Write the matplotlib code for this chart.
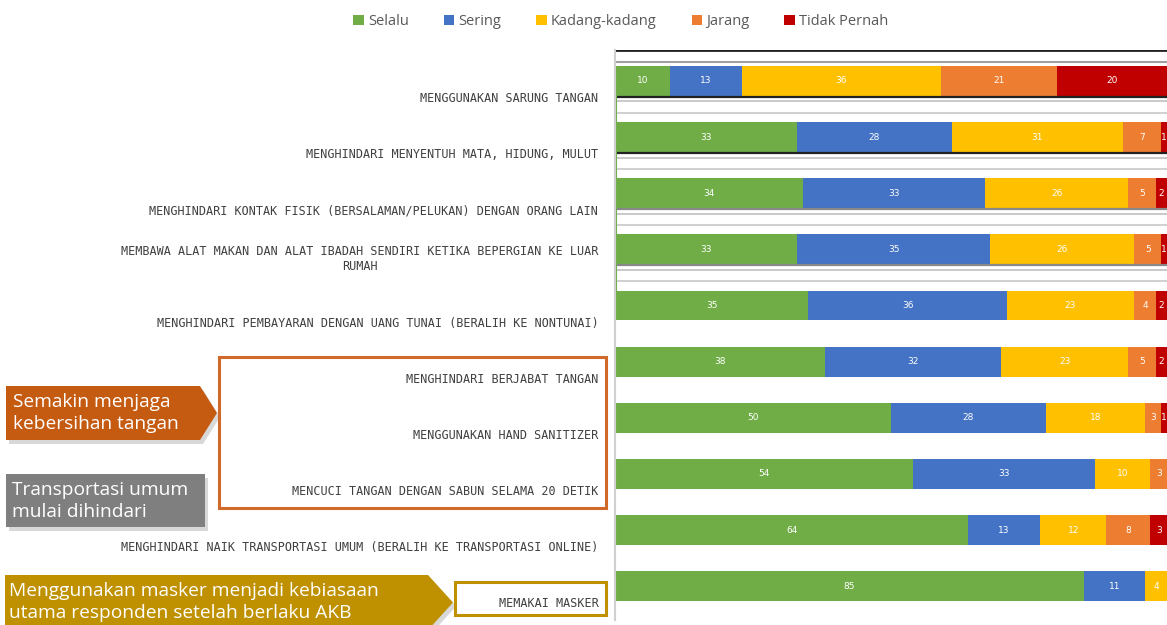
import matplotlib
matplotlib.use('Agg')
import matplotlib.pyplot as plt
from matplotlib.patches import Polygon, Rectangle
from matplotlib.transforms import ScaledTranslation
import numpy as np

# kebiasaan responden setelah AKB (persen)
kategori = [
    'MENGGUNAKAN SARUNG TANGAN',
    'MENGHINDARI MENYENTUH MATA, HIDUNG, MULUT',
    'MENGHINDARI KONTAK FISIK (BERSALAMAN/PELUKAN) DENGAN ORANG LAIN',
    'MEMBAWA ALAT MAKAN DAN ALAT IBADAH SENDIRI KETIKA BEPERGIAN KE LUAR\nRUMAH',
    'MENGHINDARI PEMBAYARAN DENGAN UANG TUNAI (BERALIH KE NONTUNAI)',
    'MENGHINDARI BERJABAT TANGAN',
    'MENGGUNAKAN HAND SANITIZER',
    'MENCUCI TANGAN DENGAN SABUN SELAMA 20 DETIK',
    'MENGHINDARI NAIK TRANSPORTASI UMUM (BERALIH KE TRANSPORTASI ONLINE)',
    'MEMAKAI MASKER',
]
selalu = [10, 33, 34, 33, 35, 38, 50, 54, 64, 85]
sering = [13, 28, 33, 35, 36, 32, 28, 33, 13, 11]
kadang = [36, 31, 26, 26, 23, 23, 18, 10, 12, 4]
jarang = [21, 7, 5, 5, 4, 5, 3, 3, 8, 0]
tidak_pernah = [20, 1, 2, 1, 2, 2, 1, 0, 3, 0]

seri = ['Selalu', 'Sering', 'Kadang-kadang', 'Jarang', 'Tidak Pernah']
nilai = [selalu, sering, kadang, jarang, tidak_pernah]
warna = ['#70AD47', '#4472C4', '#FFC000', '#ED7D31', '#C00000']

W, H = 1167, 625
fig = plt.figure(figsize=(W / 100, H / 100), dpi=100)
ax = fig.add_axes([615 / W, 5 / H, 1 - 615 / W, 570 / H])

y = np.arange(len(kategori))
tinggi = 0.53
kiri = np.zeros(len(kategori))
handles = []
for nama, v, c in zip(seri, nilai, warna):
    v = np.array(v, dtype=float)
    b = ax.barh(y, v, left=kiri, height=tinggi, color=c, label=nama)
    handles.append(b)
    for yi, l, w in zip(y, kiri, v):
        if w > 0:
            ax.text(l + w / 2, yi, f'{int(w)}', ha='center', va='center',
                    fontsize=6.5, color='white', clip_on=True)
    kiri += v

ax.set_xlim(0, 100)
ax.set_ylim(9.6, -0.55)
ax.set_yticks(y)
ax.set_yticklabels(kategori, fontsize=8.5, color='#404040',
                   family='DejaVu Sans Mono', multialignment='center')
ax.tick_params(axis='y', length=0, pad=12)
# label kategori sedikit turun dari tengah batang
geser = ScaledTranslation(0, -0.24, fig.dpi_scale_trans)
for lbl in ax.get_yticklabels():
    lbl.set_va('bottom')
    lbl.set_transform(lbl.get_transform() + geser)
ax.set_xticks([])
for s in ['top', 'right', 'bottom']:
    ax.spines[s].set_visible(False)
ax.spines['left'].set_color('#D0D0D0')
ax.spines['left'].set_linewidth(1.5)

# garis bingkai sisa di baris atas
ax.axhline(-0.55, color='#222222', lw=2)
ax.axhline(-0.33, color='#A0A0A0', lw=1.5)
for i in range(4):
    yb = i + tinggi / 2
    ax.axhline(yb + 0.02, color='#222222' if i < 2 else '#888888', lw=1.6)
    ax.axhline(yb + 0.1, color='#C0C0C0', lw=1.2)
    ax.axhline(yb + 0.3, color='#C8C8C8', lw=1.2)
    ax.plot([0.15, 0.15], [yb, yb + 0.45], color='#70AD47', lw=1.5,
            clip_on=False)

fig.legend(handles=handles, loc='upper center', bbox_to_anchor=(0.532, 0.998),
           ncol=5, frameon=False, handlelength=0.7,
           handleheight=0.7, handletextpad=0.3, columnspacing=2.4,
           labelcolor='#595959', prop={'family': 'Open Sans', 'size': 10.5})


def px(x, yy):
    return (x / W, 1 - yy / H)


def kotak_panah(x0, y0, x1, y1, ujung, warna_isi):
    tengah = (y0 + y1) / 2
    pts = [px(x0, y0), px(x1, y0), px(ujung, tengah), px(x1, y1), px(x0, y1)]
    bayang = [(a + 3 / W, b - 4 / H) for a, b in pts]
    fig.add_artist(Polygon(bayang, closed=True, transform=fig.transFigure,
                           facecolor='#BFBFBF', edgecolor='none', alpha=0.6))
    fig.add_artist(Polygon(pts, closed=True, transform=fig.transFigure,
                           facecolor=warna_isi, edgecolor='none'))


gaya = dict(color='white', fontsize=13.8, family='Open Sans', va='center',
            ha='left', linespacing=1.25)

# keterangan kebersihan tangan
kotak_panah(6, 386, 200, 440, 217, '#C55A11')
fig.text(*px(13, 413), 'Semakin menjaga\nkebersihan tangan', **gaya)
fig.add_artist(Rectangle(px(219, 508), (606 - 219) / W, (508 - 357) / H,
                         transform=fig.transFigure, fill=False,
                         edgecolor='#D0692A', lw=2.2))

# keterangan transportasi
fig.add_artist(Rectangle((9 / W, 1 - 531 / H), 199 / W, 53 / H,
                         transform=fig.transFigure, facecolor='#BFBFBF',
                         edgecolor='none', alpha=0.6))
fig.add_artist(Rectangle((6 / W, 1 - 527 / H), 199 / W, 53 / H,
                         transform=fig.transFigure, facecolor='#7F7F7F',
                         edgecolor='none'))
fig.text(*px(12, 501), 'Transportasi umum\nmulai dihindari', **gaya)

# keterangan masker
kotak_panah(5, 575, 428, 630, 453, '#BF9000')
fig.text(*px(9, 602), 'Menggunakan masker menjadi kebiasaan\nutama responden setelah berlaku AKB',
         **gaya)
fig.add_artist(Rectangle(px(455, 615), (606 - 455) / W, (615 - 582) / H,
                         transform=fig.transFigure, fill=False,
                         edgecolor='#BF9000', lw=2.2))

fig.savefig('out.png', dpi=100)
